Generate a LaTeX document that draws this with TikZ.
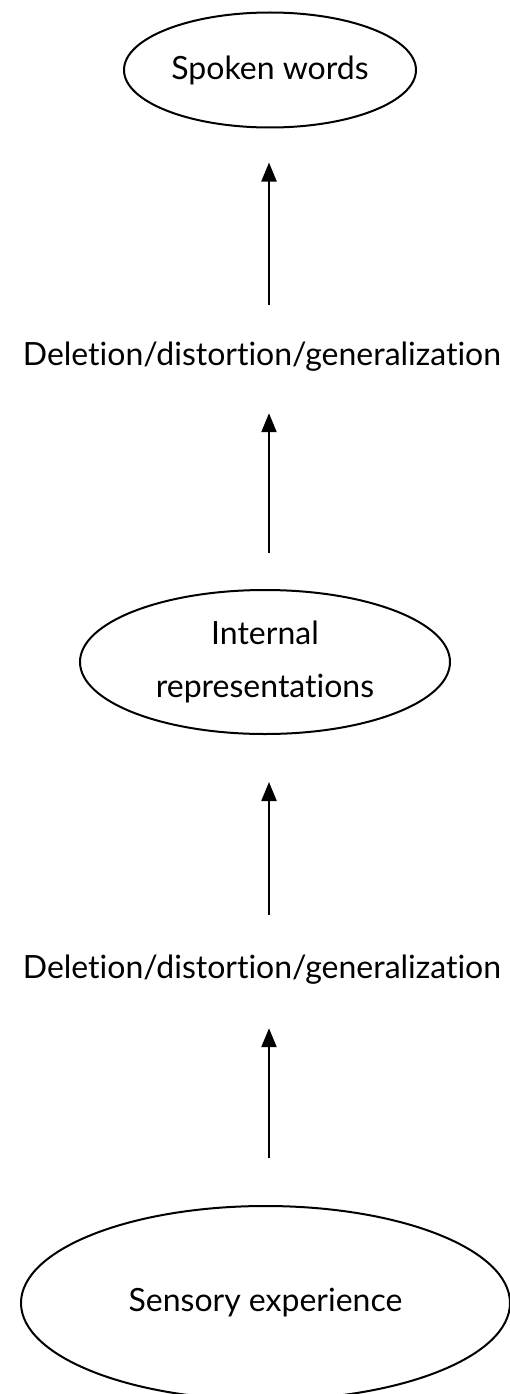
\documentclass[tikz,border=0pt]{standalone}
\usepackage{fontspec}
\setmainfont{Lato}[Ligatures=NoCommon]
\usetikzlibrary{arrows.meta,shapes.geometric}
\begin{document}
\begin{tikzpicture}[x=1pt,y=-1pt,font=\fontsize{32}{53}\selectfont,
		Elip/.style={draw=MauNet,ellipse,line width=2pt,inner sep=0pt,outer sep=0pt},
		Nhan/.style={inner sep=0pt,text height=22pt,text depth=8pt},
		Flow/.style={draw=MauNet,line width=2.2pt,-{Triangle[width=15pt,length=19pt]}}]
	\colorlet{MauNet}{black}
	\useasboundingbox (0,0) rectangle (510,1394);
	\coordinate (axis) at (269,0);
	\node[Elip,minimum width=292pt,minimum height=115pt] (spoken) at (270,70) {Spoken words};
	\node[Nhan] (dgone) at (262,358) {Deletion/distortion/generalization};
	\node[Elip,minimum width=370pt,minimum height=144pt,align=center] (internal) at (265,662) {Internal\\representations};
	\node[Nhan] (dgtwo) at (262,971) {Deletion/distortion/generalization};
	\node[Elip,minimum width=489pt,minimum height=194pt] (sensory) at (265.5,1303) {Sensory experience};
	\draw[Flow,shorten <=48pt,shorten >=42pt] (sensory.north -| axis) -- (dgtwo.south -| axis);
	\draw[Flow,shorten <=41pt,shorten >=48pt] (dgtwo.north -| axis) -- (internal.south -| axis);
	\draw[Flow,shorten <=37pt,shorten >=40pt] (internal.north -| axis) -- (dgone.south -| axis);
	\draw[Flow,shorten <=38pt,shorten >=35pt] (dgone.north -| axis) -- (spoken.south -| axis);
\end{tikzpicture}
\end{document}
